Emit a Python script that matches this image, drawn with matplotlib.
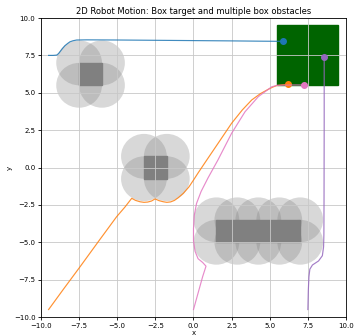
import matplotlib.pyplot as plt
from matplotlib.patches import Rectangle, Circle

# target region (x0, y0, width, height)
target_box = (5.5, 5.5, 4.0, 4.0)

# box obstacles (x0, y0, width, height)
obstacle_boxes = [
    (-7.5, 5.5, 1.5, 1.5),
    (-3.25, -0.75, 1.5, 1.5),
    (1.5, -5.0, 5.5, 1.5),
]

# safety circles covering each obstacle
circle_radius = 1.5
circle_x = [
    -7.5, -6.0, -7.5, -6.0,
    -3.25, -1.75, -3.25, -1.75,
    1.5, 2.875, 4.25, 5.625, 7.0,
    1.5, 2.875, 4.25, 5.625, 7.0,
]
circle_y = [
    5.5, 5.5, 7.0, 7.0,
    -0.75, -0.75, 0.75, 0.75,
    -5.0, -5.0, -5.0, -5.0, -5.0,
    -3.5, -3.5, -3.5, -3.5, -3.5,
]

# robot trajectories
robot1_x = [-9.5, -9.2, -8.97, -8.85, -8.75, -8.6, -8.43, -8.25, -8.1, -7.9, -7.66, -7.0,
            -5.0, -2.5, 0.0, 2.5, 4.5, 5.89]
robot1_y = [7.5, 7.5, 7.52, 7.62, 7.75, 7.95, 8.15, 8.3, 8.41, 8.48, 8.53, 8.54,
            8.53, 8.51, 8.49, 8.47, 8.45, 8.44]

robot2_x = [-9.5, -8.5, -7.44, -6.2, -5.04, -4.5, -4.05, -3.8, -3.51, -3.25, -3.0, -2.75,
            -2.52, -2.25, -1.98, -1.75, -1.5, -1.25, -1.0, -0.67, -0.3, 0.0, 0.31,
            0.75, 1.6, 2.5, 3.2, 3.82, 4.4, 4.9, 5.2, 5.46, 5.8, 6.22]
robot2_y = [-9.5, -8.1, -6.64, -4.9, -3.29, -2.65, -2.06, -2.2, -2.29, -2.33, -2.31, -2.24,
            -2.1, -2.22, -2.29, -2.33, -2.3, -2.2, -2.02, -1.73, -1.3, -0.84, -0.35,
            0.32, 1.6, 2.96, 3.85, 4.52, 4.95, 5.23, 5.38, 5.48, 5.53, 5.56]

robot3_x = [0.0, 0.3, 0.6, 0.82, 0.6, 0.3, 0.1, 0.0, 0.0, 0.05, 0.2, 0.5, 0.95,
            1.6, 2.5, 3.38, 4.25, 5.13, 5.5, 6.5, 7.27]
robot3_y = [-9.5, -8.4, -7.3, -6.6, -6.35, -6.1, -5.6, -4.9, -4.1, -3.2, -2.4, -1.6, -0.7,
            0.5, 2.29, 3.73, 4.74, 5.4, 5.5, 5.52, 5.52]

robot4_x = [7.5, 7.53, 7.57, 7.63, 7.8, 8.2, 8.45, 8.53, 8.55, 8.56, 8.57, 8.57]
robot4_y = [-9.5, -8.2, -7.3, -6.8, -6.52, -6.25, -5.9, -5.3, -4.5, -2.0, 3.0, 7.41]

trajectories = [
    (robot1_x, robot1_y, 'C0'),
    (robot2_x, robot2_y, 'C1'),
    (robot3_x, robot3_y, 'C6'),
    (robot4_x, robot4_y, 'C4'),
]

plt.rcParams['font.size'] = 5
fig = plt.figure(figsize=(3.54, 3.35), dpi=100)
ax = fig.add_axes([0.1158, 0.0537, 0.8616, 0.8925])

ax.add_patch(Rectangle(target_box[:2], target_box[2], target_box[3], color='darkgreen'))

for cx, cy in zip(circle_x, circle_y):
    ax.add_patch(Circle((cx, cy), circle_radius, color='gray', alpha=0.3, lw=0))
for x0, y0, w, h in obstacle_boxes:
    ax.add_patch(Rectangle((x0, y0), w, h, color='gray'))

for xs, ys, c in trajectories:
    ax.plot(xs, ys, color=c, lw=0.85, alpha=0.85)
    ax.plot(xs[-1], ys[-1], 'o', color=c, ms=4)

ax.set_xlim(-10, 10)
ax.set_ylim(-10, 10)
ax.set_xticks([-10, -7.5, -5, -2.5, 0, 2.5, 5, 7.5, 10])
ax.set_yticks([-10, -7.5, -5, -2.5, 0, 2.5, 5, 7.5, 10])
ax.tick_params(length=2.5, width=0.6, pad=1.5, labelsize=5)
for s in ax.spines.values():
    s.set_linewidth(0.6)
ax.grid(True, lw=0.6, color='#c8c8c8')
ax.set_xlabel('x', labelpad=1)
ax.set_ylabel('y', labelpad=1)
ax.set_title('2D Robot Motion: Box target and multiple box obstacles', fontsize=6, pad=3)

fig.savefig('out.png', dpi=100)
